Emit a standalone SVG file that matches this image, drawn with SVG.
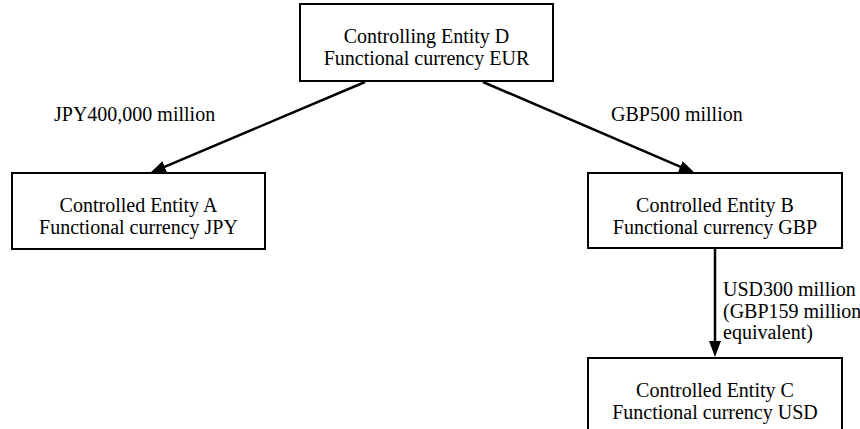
<svg xmlns="http://www.w3.org/2000/svg" width="860" height="429" viewBox="0 0 860 429">
<style>
.box{fill:#fff;stroke:#000;stroke-width:2}
text{font-family:'Liberation Serif','DejaVu Serif','Times New Roman',serif;font-size:20px;fill:#000}
.c{text-anchor:middle}
.ln{stroke:#000;stroke-width:2.5;fill:none;marker-end:url(#ah)}
</style>
<defs>
<marker id="ah" markerUnits="userSpaceOnUse" markerWidth="16" markerHeight="12" refX="8" refY="6" orient="auto">
<path d="M0,0 L16,6 L0,12 z" fill="#000"/>
</marker>
</defs>
<rect width="860" height="429" fill="#fff"/>
<g id="connectors" font-family="Liberation Serif, DejaVu Serif, serif" font-size="20">
<line class="ln" x1="365" y1="82" x2="157.4" y2="169.9"/>
<line class="ln" x1="483" y1="82" x2="687.6" y2="169.8"/>
<line class="ln" x1="715" y1="248" x2="715" y2="349"/>
<text x="54" y="121">JPY400,000 million</text>
<text x="611" y="121">GBP500 million</text>
<text x="723" y="296">USD300 million</text>
<text x="723" y="317.5">(GBP159 million</text>
<text x="723" y="339">equivalent)</text>
</g>
<g id="nodeD" font-family="Liberation Serif, DejaVu Serif, serif" font-size="20">
<rect class="box" x="300" y="4" width="253" height="77"/>
<text class="c" x="426.5" y="43">Controlling Entity D</text>
<text class="c" x="426.5" y="65">Functional currency EUR</text>
</g>
<g id="nodeA" font-family="Liberation Serif, DejaVu Serif, serif" font-size="20">
<rect class="box" x="12" y="173" width="253" height="76"/>
<text class="c" x="138.5" y="212">Controlled Entity A</text>
<text class="c" x="138.5" y="234">Functional currency JPY</text>
</g>
<g id="nodeB" font-family="Liberation Serif, DejaVu Serif, serif" font-size="20">
<rect class="box" x="588" y="173" width="254" height="75"/>
<text class="c" x="715" y="212">Controlled Entity B</text>
<text class="c" x="715" y="234">Functional currency GBP</text>
</g>
<g id="nodeC" font-family="Liberation Serif, DejaVu Serif, serif" font-size="20">
<rect class="box" x="588" y="358" width="254" height="76"/>
<text class="c" x="715" y="397">Controlled Entity C</text>
<text class="c" x="715" y="419">Functional currency USD</text>
</g>
</svg>
